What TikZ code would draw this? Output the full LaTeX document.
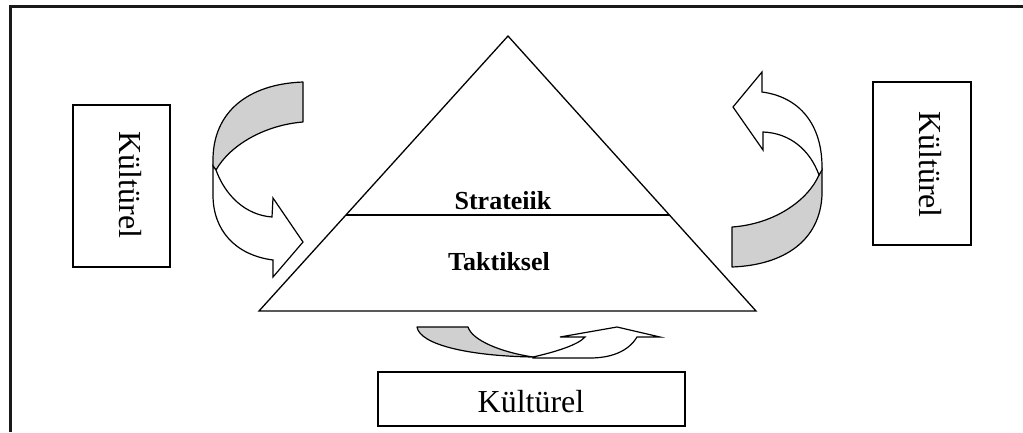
\documentclass[tikz,border=0pt]{standalone}
\usepackage{fontspec}
\setmainfont{Liberation Serif}
\usetikzlibrary{calc}
\definecolor{bandgray}{HTML}{D0D0D0}
\newcommand\kulfont{\fontsize{32}{36}\selectfont}
\newcommand\levelfont{\fontsize{26}{30}\selectfont\bfseries}
\begin{document}
\begin{tikzpicture}[x=1pt,y=-1pt,
  frame/.style={draw=black!90, line width=3pt},
  kbox/.style={draw, line width=1.7pt, inner sep=0pt},
  ktext/.style={font=\kulfont, inner sep=0pt},
  level/.style={font=\levelfont, inner sep=0pt},
  edge/.style={line width=1.3pt, line join=miter},
  bandback/.style={fill=bandgray, draw=black, line width=1.2pt, line join=round},
  bandfront/.style={fill=white, draw=black, line width=1.2pt, line join=miter}]
  \useasboundingbox (0,0) rectangle (1023,432);

  % outer frame: only its left and top sides fall inside the page
  \coordinate (fbl) at (10,432);
  \coordinate (ftl) at (10,6.5);
  \coordinate (ftr) at (1023,6.5);
  \draw[frame] (fbl) -- (ftl) -- (ftr);

  % pyramid
  \coordinate (apex) at (508,36);
  \coordinate (bl) at (259,311);
  \coordinate (br) at (756,311);
  \coordinate (ml) at ($(apex)!0.651!(bl)$);
  \coordinate (mr) at ($(apex)!0.651!(br)$);
  \draw[edge] (apex) -- (bl) -- (br) -- cycle;
  \draw[edge] (ml) -- (mr);
  \node[level, anchor=base] (strat) at (503,209) {Strateiik};
  \node[level, anchor=base] (takt) at (499,270) {Taktiksel};

  % culture boxes
  \node[kbox, minimum width=97pt, minimum height=162pt] (lbox) at (121.7,185.8) {};
  \node[ktext, rotate=-90, anchor=base] (ltext) at (119,185) {Kültürel};
  \node[kbox, minimum width=98pt, minimum height=163pt] (rbox) at (922,163.3) {};
  \node[ktext, rotate=-90, anchor=base] (rtext) at (919.5,164.5) {Kültürel};
  \node[kbox, minimum width=307pt, minimum height=54pt] (bbox) at (531.5,399) {};
  \node[ktext, anchor=base] (btext) at (531,412) {Kültürel};

  % left curved arrow: grey underside, then the white front with its head
  \filldraw[bandback] (303,82) -- (303,122)
    .. controls (265,125) and (230,145) .. (216,170)
    -- (213,166) -- (213,160)
    .. controls (213,112) and (248,84) .. (303,82) -- cycle;
  \filldraw[bandfront] (216,170)
    .. controls (225,195) and (245,215) .. (272,217)
    -- (273,198) -- (303,242) -- (273,277) -- (273,260)
    .. controls (235,255) and (213,230) .. (213,195)
    -- (213,166) -- cycle;

  % right curved arrow
  \filldraw[bandback] (822,168) -- (822,195)
    .. controls (820,240) and (785,265) .. (732,267)
    -- (732,227)
    .. controls (775,224) and (808,200) .. (819,175) -- cycle;
  \filldraw[bandfront] (819,175)
    .. controls (810,150) and (790,133) .. (763,132)
    -- (763,150) -- (733,107) -- (762,72) -- (762,92)
    .. controls (800,97) and (822,125) .. (822,167)
    -- (822,170) -- cycle;

  % bottom curved arrow
  \filldraw[bandback] (417,327) -- (468,327)
    .. controls (472,340) and (500,352) .. (533,357)
    .. controls (470,356) and (420,345) .. (417,327) -- cycle;
  \filldraw[bandfront] (533,357)
    .. controls (555,352) and (578,345) .. (585,337)
    -- (560,337) -- (617,327) -- (660,337) -- (637,337)
    .. controls (628,352) and (610,358) .. (590,358)
    -- (533,358) -- cycle;
\end{tikzpicture}
\end{document}
